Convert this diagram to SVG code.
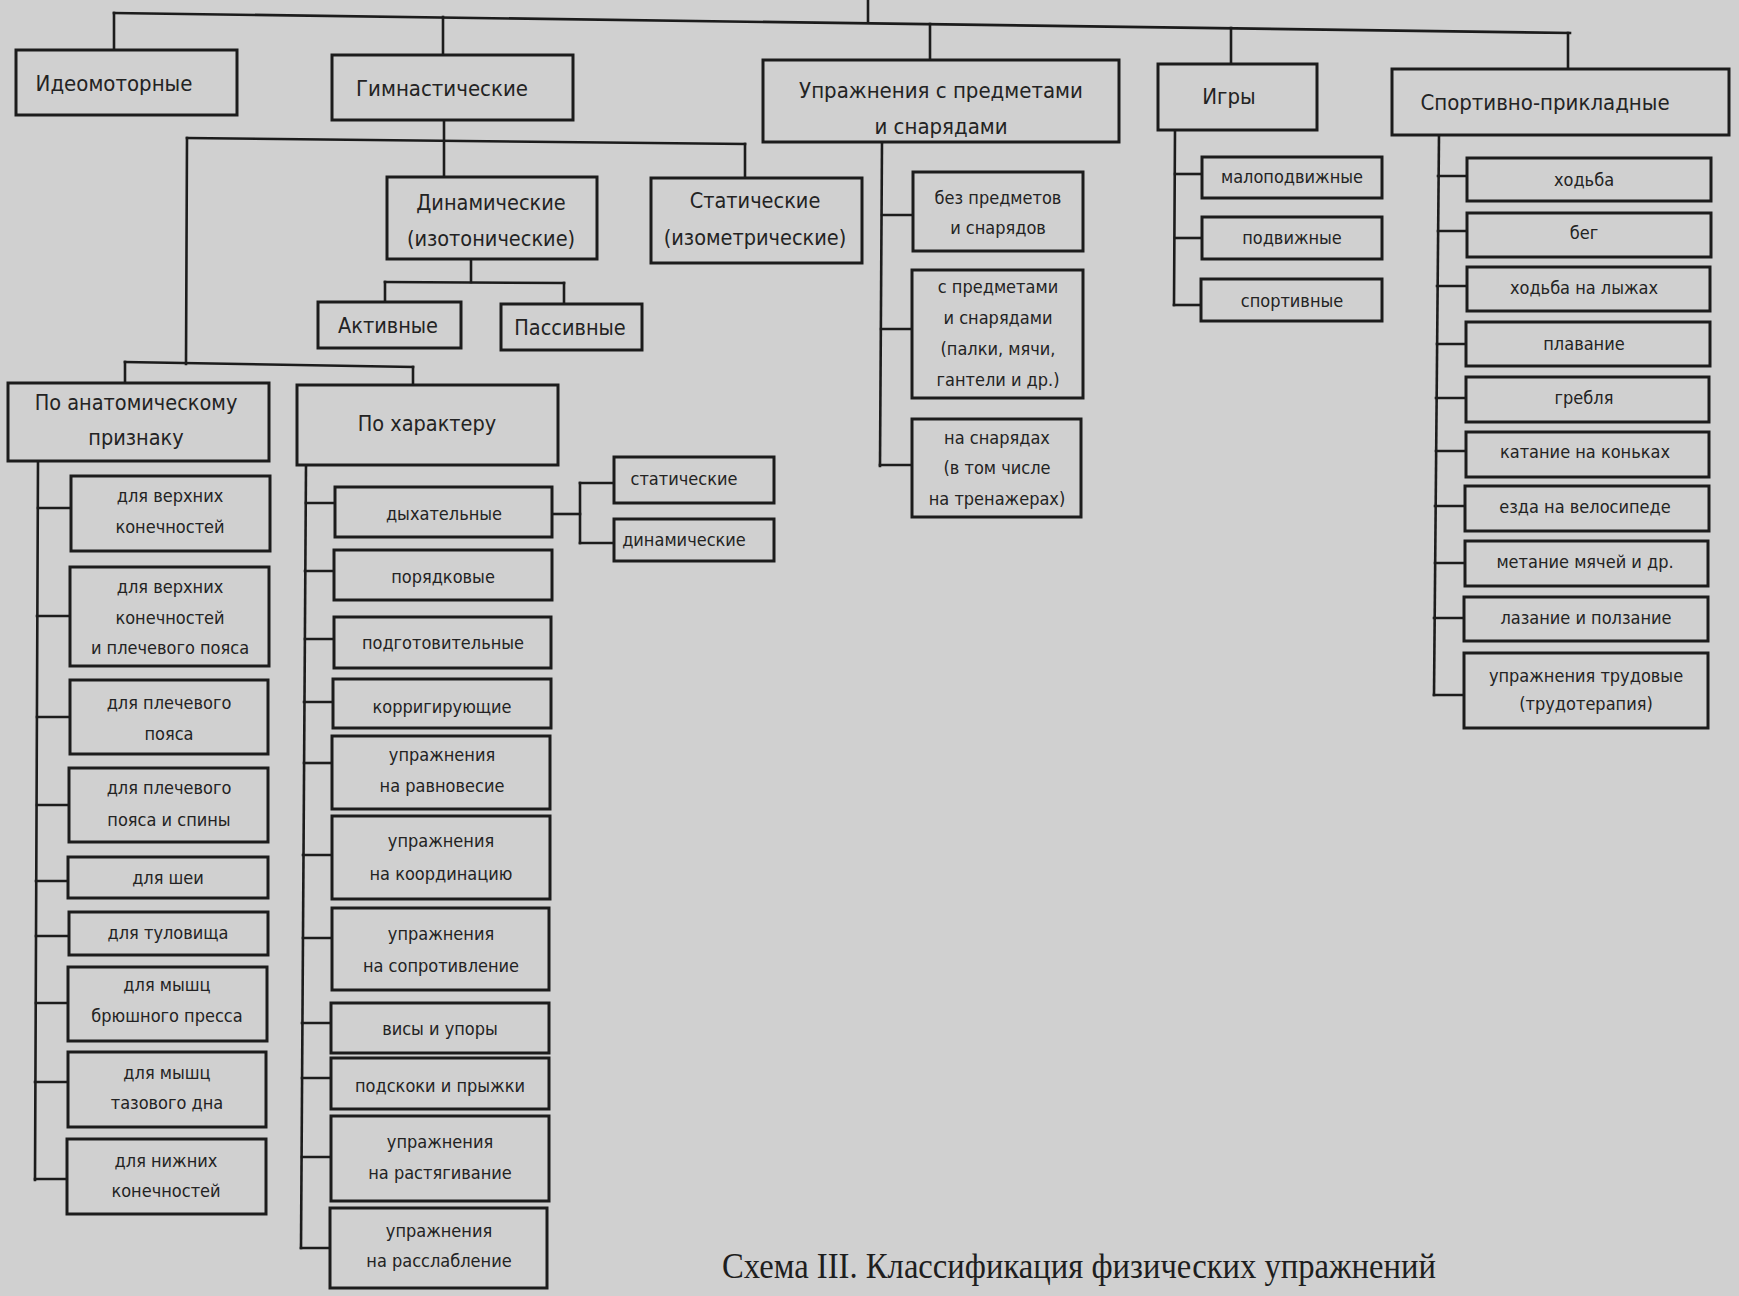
<svg xmlns="http://www.w3.org/2000/svg" width="1739" height="1296" viewBox="0 0 1739 1296">
<style>
.bg{fill:#d0d0d0}
.box{fill:#d0d0d0;stroke:#1c1c1c;stroke-width:3}
.con line,.con polyline{stroke:#1c1c1c;stroke-width:2.6;fill:none;stroke-linecap:square}
text{font-family:"DejaVu Sans Condensed","Liberation Sans Narrow","DejaVu Sans",sans-serif;font-stretch:condensed;fill:#232323;text-anchor:middle;dominant-baseline:central}
.t1{font-size:22px}
.t2{font-size:21.5px}
.t3{font-size:18px}
.cap{font-family:"Liberation Serif","DejaVu Serif",serif;font-stretch:normal;font-size:35px;text-anchor:start;dominant-baseline:alphabetic;fill:#1e1e1e}
</style>
<rect class="bg" x="0" y="0" width="1739" height="1296"/>

<g id="connectors" class="con">
<line x1="868" y1="0" x2="868" y2="21"/>
<line x1="114" y1="13" x2="1570" y2="33"/>
<line x1="114" y1="13" x2="114" y2="50"/>
<line x1="443" y1="17" x2="443" y2="55"/>
<line x1="930" y1="24" x2="930" y2="60"/>
<line x1="1231" y1="28" x2="1231" y2="64"/>
<line x1="1568" y1="33" x2="1568" y2="69"/>
<!-- gymnastics -->
<line x1="444" y1="120" x2="444" y2="177"/>
<line x1="187" y1="138" x2="745" y2="144"/>
<line x1="745" y1="144" x2="745" y2="178"/>
<line x1="187" y1="138" x2="186" y2="364"/>
<line x1="125" y1="362" x2="413" y2="367"/>
<line x1="125" y1="362" x2="125" y2="383"/>
<line x1="413" y1="367" x2="413" y2="385"/>
<line x1="471" y1="259" x2="471" y2="282"/>
<line x1="385" y1="282" x2="564" y2="283"/>
<line x1="385" y1="282" x2="385" y2="302"/>
<line x1="564" y1="283" x2="564" y2="304"/>
<!-- anatomical -->
<line x1="38" y1="461" x2="35" y2="1180"/>
<line x1="38" y1="508" x2="71" y2="508"/>
<line x1="37" y1="616" x2="70" y2="616"/>
<line x1="37" y1="717" x2="70" y2="717"/>
<line x1="37" y1="805" x2="69" y2="805"/>
<line x1="36" y1="881" x2="68" y2="881"/>
<line x1="36" y1="936" x2="69" y2="936"/>
<line x1="36" y1="1003" x2="68" y2="1003"/>
<line x1="35" y1="1082" x2="68" y2="1082"/>
<line x1="35" y1="1179" x2="67" y2="1179"/>
<!-- character -->
<line x1="306" y1="465" x2="301" y2="1248"/>
<line x1="306" y1="503" x2="335" y2="503"/>
<line x1="305" y1="571" x2="334" y2="571"/>
<line x1="305" y1="639" x2="334" y2="639"/>
<line x1="304" y1="702" x2="333" y2="702"/>
<line x1="304" y1="763" x2="332" y2="763"/>
<line x1="303" y1="855" x2="332" y2="855"/>
<line x1="303" y1="938" x2="332" y2="938"/>
<line x1="302" y1="1023" x2="331" y2="1023"/>
<line x1="302" y1="1078" x2="331" y2="1078"/>
<line x1="302" y1="1157" x2="331" y2="1157"/>
<line x1="301" y1="1248" x2="330" y2="1248"/>
<line x1="552" y1="514" x2="580" y2="514"/>
<line x1="580" y1="483" x2="580" y2="543"/>
<line x1="580" y1="483" x2="614" y2="483"/>
<line x1="580" y1="543" x2="614" y2="543"/>
<!-- apparatus -->
<line x1="882" y1="142" x2="880" y2="466"/>
<line x1="882" y1="215" x2="913" y2="215"/>
<line x1="881" y1="329" x2="912" y2="329"/>
<line x1="880" y1="465" x2="912" y2="465"/>
<!-- games -->
<line x1="1175" y1="130" x2="1174" y2="305"/>
<line x1="1175" y1="174" x2="1202" y2="174"/>
<line x1="1175" y1="238" x2="1202" y2="238"/>
<line x1="1174" y1="305" x2="1201" y2="305"/>
<!-- sport-applied -->
<line x1="1439" y1="135" x2="1434" y2="695"/>
<line x1="1438" y1="176" x2="1467" y2="176"/>
<line x1="1438" y1="231" x2="1467" y2="231"/>
<line x1="1437" y1="286" x2="1467" y2="286"/>
<line x1="1437" y1="344" x2="1466" y2="344"/>
<line x1="1436" y1="398" x2="1466" y2="398"/>
<line x1="1436" y1="451" x2="1466" y2="451"/>
<line x1="1435" y1="506" x2="1465" y2="506"/>
<line x1="1435" y1="563" x2="1465" y2="563"/>
<line x1="1434" y1="618" x2="1464" y2="618"/>
<line x1="1434" y1="695" x2="1464" y2="695"/>
</g>

<g id="n-ideomotor"><rect class="box" x="16" y="50" width="221" height="65"/><text class="t1" x="114" y="83">Идеомоторные</text></g>
<g id="n-gymn"><rect class="box" x="332" y="55" width="241" height="65"/><text class="t1" x="442" y="88">Гимнастические</text></g>
<g id="n-objects"><rect class="box" x="763" y="60" width="356" height="82"/><text class="t1" x="941" y="90">Упражнения с предметами</text><text class="t1" x="941" y="126">и снарядами</text></g>
<g id="n-games"><rect class="box" x="1158" y="64" width="159" height="66"/><text class="t1" x="1229" y="96">Игры</text></g>
<g id="n-sport"><rect class="box" x="1392" y="69" width="337" height="66"/><text class="t1" x="1545" y="102">Спортивно-прикладные</text></g>

<g id="n-dynamic"><rect class="box" x="387" y="177" width="210" height="82"/><text class="t2" x="491" y="202">Динамические</text><text class="t2" x="491" y="238">(изотонические)</text></g>
<g id="n-static"><rect class="box" x="651" y="178" width="211" height="85"/><text class="t2" x="755" y="200">Статические</text><text class="t2" x="755" y="237">(изометрические)</text></g>
<g id="n-active"><rect class="box" x="318" y="302" width="143" height="46"/><text class="t2" x="388" y="325">Активные</text></g>
<g id="n-passive"><rect class="box" x="501" y="304" width="141" height="46"/><text class="t2" x="570" y="327">Пассивные</text></g>
<g id="n-anat"><rect class="box" x="8" y="383" width="261" height="78"/><text class="t2" x="136" y="402">По анатомическому</text><text class="t2" x="136" y="437">признаку</text></g>
<g id="n-char"><rect class="box" x="297" y="385" width="261" height="80"/><text class="t2" x="427" y="423">По характеру</text></g>

<g id="a1"><rect class="box" x="71" y="476" width="199" height="75"/><text class="t3" x="170" y="495">для верхних</text><text class="t3" x="170" y="526">конечностей</text></g>
<g id="a2"><rect class="box" x="70" y="567" width="199" height="99"/><text class="t3" x="170" y="586">для верхних</text><text class="t3" x="170" y="617">конечностей</text><text class="t3" x="170" y="647">и плечевого пояса</text></g>
<g id="a3"><rect class="box" x="70" y="680" width="198" height="74"/><text class="t3" x="169" y="702">для плечевого</text><text class="t3" x="169" y="733">пояса</text></g>
<g id="a4"><rect class="box" x="69" y="768" width="199" height="74"/><text class="t3" x="169" y="787">для плечевого</text><text class="t3" x="169" y="819">пояса и спины</text></g>
<g id="a5"><rect class="box" x="68" y="857" width="200" height="41"/><text class="t3" x="168" y="877">для шеи</text></g>
<g id="a6"><rect class="box" x="69" y="912" width="199" height="43"/><text class="t3" x="168" y="932">для туловища</text></g>
<g id="a7"><rect class="box" x="68" y="967" width="199" height="74"/><text class="t3" x="167" y="984">для мышц</text><text class="t3" x="167" y="1015">брюшного пресса</text></g>
<g id="a8"><rect class="box" x="68" y="1052" width="198" height="75"/><text class="t3" x="167" y="1072">для мышц</text><text class="t3" x="167" y="1102">тазового дна</text></g>
<g id="a9"><rect class="box" x="67" y="1139" width="199" height="75"/><text class="t3" x="166" y="1160">для нижних</text><text class="t3" x="166" y="1190">конечностей</text></g>

<g id="c1"><rect class="box" x="335" y="487" width="217" height="50"/><text class="t3" x="444" y="513">дыхательные</text></g>
<g id="c1a"><rect class="box" x="614" y="457" width="160" height="46"/><text class="t3" x="684" y="478">статические</text></g>
<g id="c1b"><rect class="box" x="614" y="519" width="160" height="42"/><text class="t3" x="684" y="539">динамические</text></g>
<g id="c2"><rect class="box" x="334" y="550" width="218" height="50"/><text class="t3" x="443" y="576">порядковые</text></g>
<g id="c3"><rect class="box" x="334" y="617" width="217" height="51"/><text class="t3" x="443" y="642">подготовительные</text></g>
<g id="c4"><rect class="box" x="333" y="679" width="218" height="49"/><text class="t3" x="442" y="706">корригирующие</text></g>
<g id="c5"><rect class="box" x="332" y="736" width="218" height="73"/><text class="t3" x="442" y="754">упражнения</text><text class="t3" x="442" y="785">на равновесие</text></g>
<g id="c6"><rect class="box" x="332" y="816" width="218" height="83"/><text class="t3" x="441" y="840">упражнения</text><text class="t3" x="441" y="873">на координацию</text></g>
<g id="c7"><rect class="box" x="332" y="908" width="217" height="82"/><text class="t3" x="441" y="933">упражнения</text><text class="t3" x="441" y="965">на сопротивление</text></g>
<g id="c8"><rect class="box" x="331" y="1003" width="218" height="50"/><text class="t3" x="440" y="1028">висы и упоры</text></g>
<g id="c9"><rect class="box" x="331" y="1058" width="218" height="51"/><text class="t3" x="440" y="1085">подскоки и прыжки</text></g>
<g id="c10"><rect class="box" x="331" y="1116" width="218" height="85"/><text class="t3" x="440" y="1141">упражнения</text><text class="t3" x="440" y="1172">на растягивание</text></g>
<g id="c11"><rect class="box" x="330" y="1208" width="217" height="80"/><text class="t3" x="439" y="1230">упражнения</text><text class="t3" x="439" y="1260">на расслабление</text></g>

<g id="o1"><rect class="box" x="913" y="172" width="170" height="79"/><text class="t3" x="998" y="197">без предметов</text><text class="t3" x="998" y="227">и снарядов</text></g>
<g id="o2"><rect class="box" x="912" y="270" width="171" height="128"/><text class="t3" x="998" y="286">с предметами</text><text class="t3" x="998" y="317">и снарядами</text><text class="t3" x="998" y="348">(палки, мячи,</text><text class="t3" x="998" y="379">гантели и др.)</text></g>
<g id="o3"><rect class="box" x="912" y="419" width="169" height="98"/><text class="t3" x="997" y="437">на снарядах</text><text class="t3" x="997" y="467">(в том числе</text><text class="t3" x="997" y="498">на тренажерах)</text></g>

<g id="g1"><rect class="box" x="1202" y="157" width="180" height="41"/><text class="t3" x="1292" y="176">малоподвижные</text></g>
<g id="g2"><rect class="box" x="1202" y="217" width="180" height="42"/><text class="t3" x="1292" y="237">подвижные</text></g>
<g id="g3"><rect class="box" x="1201" y="279" width="181" height="42"/><text class="t3" x="1292" y="300">спортивные</text></g>

<g id="s1"><rect class="box" x="1467" y="158" width="244" height="43"/><text class="t3" x="1584" y="179">ходьба</text></g>
<g id="s2"><rect class="box" x="1467" y="213" width="244" height="44"/><text class="t3" x="1584" y="232">бег</text></g>
<g id="s3"><rect class="box" x="1467" y="267" width="243" height="44"/><text class="t3" x="1584" y="287">ходьба на лыжах</text></g>
<g id="s4"><rect class="box" x="1466" y="322" width="244" height="44"/><text class="t3" x="1584" y="343">плавание</text></g>
<g id="s5"><rect class="box" x="1466" y="377" width="243" height="45"/><text class="t3" x="1584" y="397">гребля</text></g>
<g id="s6"><rect class="box" x="1466" y="432" width="243" height="45"/><text class="t3" x="1585" y="451">катание на коньках</text></g>
<g id="s7"><rect class="box" x="1465" y="486" width="244" height="45"/><text class="t3" x="1585" y="506">езда на велосипеде</text></g>
<g id="s8"><rect class="box" x="1465" y="541" width="243" height="45"/><text class="t3" x="1585" y="561">метание мячей и др.</text></g>
<g id="s9"><rect class="box" x="1464" y="597" width="244" height="44"/><text class="t3" x="1586" y="617">лазание и ползание</text></g>
<g id="s10"><rect class="box" x="1464" y="653" width="244" height="75"/><text class="t3" x="1586" y="675">упражнения трудовые</text><text class="t3" x="1586" y="703">(трудотерапия)</text></g>

<g id="caption"><text class="cap" x="722" y="1278" textLength="714" lengthAdjust="spacingAndGlyphs">Схема III. Классификация физических упражнений</text></g>
</svg>
